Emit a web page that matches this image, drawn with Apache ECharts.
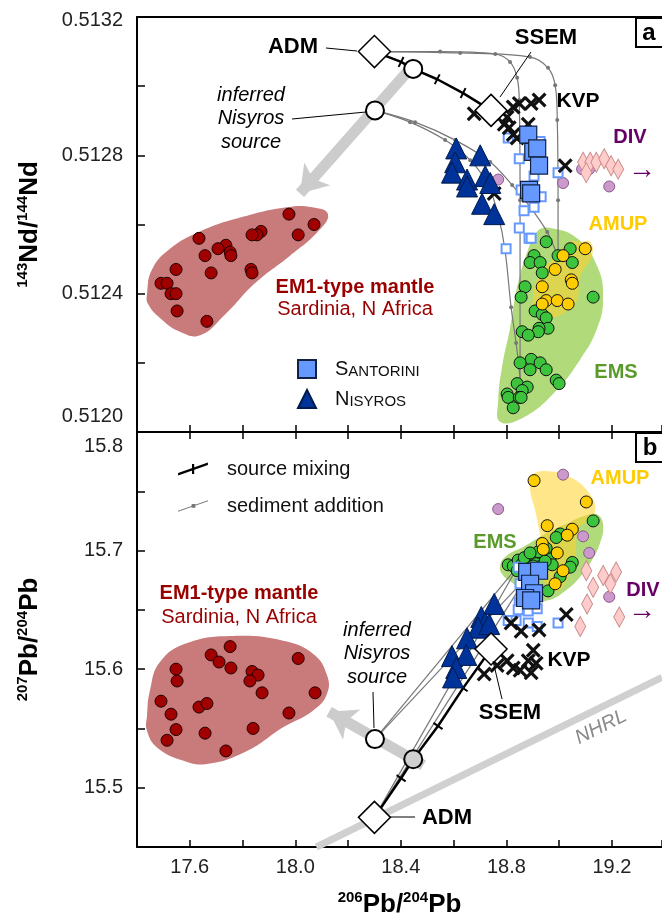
<!DOCTYPE html>
<html>
<head>
<meta charset="utf-8">
<script src="https://cdn.jsdelivr.net/npm/echarts@6/dist/echarts.min.js"></script>
<style>
html, body { margin: 0; padding: 0; background: #fff; }
#chart { width: 662px; height: 913px; }
</style>
</head>
<body>
<div id="chart"></div>
<script>
// axes
var X_MIN = 17.4, X_MAX = 19.39;
var xTickLabels = ['17.6', '18.0', '18.4', '18.8', '19.2'];
var yTickLabelsA = ['0.5120', '0.5124', '0.5128', '0.5132'];
var yTickLabelsB = ['15.5', '15.6', '15.7', '15.8'];

// ---- panel a : 143Nd/144Nd vs 206Pb/204Pb ----
var em1A = [[17.976,0.51263],[18.071,0.51260],[18.011,0.51257],[17.870,0.51258],[17.855,0.51257],[17.836,0.51257],
  [17.635,0.51256],[17.737,0.51254],[17.707,0.51253],[17.753,0.51252],[17.756,0.51251],[17.658,0.51251],
  [17.832,0.51247],[17.836,0.51246],[17.681,0.51246],[17.548,0.51247],[17.491,0.51243],[17.514,0.51243],
  [17.529,0.51240],[17.548,0.51240],[17.552,0.51235],[17.665,0.51232]];
var em1FieldA = [[17.438,0.51240],[17.457,0.51247],[17.525,0.51253],[17.639,0.51258],[17.791,0.51262],[17.969,0.51265],
  [18.064,0.51265],[18.124,0.51263],[18.086,0.51258],[17.980,0.51251],[17.847,0.51243],[17.734,0.51234],
  [17.639,0.51228],[17.563,0.51229],[17.487,0.51233],[17.442,0.51237]];
var emsFieldA = [[18.966,0.51259],[19.068,0.51256],[19.144,0.51248],[19.167,0.51239],[19.144,0.51230],[19.080,0.51221],
  [18.977,0.51211],[18.860,0.51204],[18.776,0.51203],[18.769,0.51209],[18.784,0.51219],[18.814,0.51230],
  [18.841,0.51242],[18.879,0.51252],[18.917,0.51258]];
var amupFieldA = [[19.080,0.51255],[19.118,0.51255],[19.125,0.51251],[19.080,0.51245],[19.068,0.51238],[19.031,0.51235],
  [18.966,0.51233],[18.909,0.51235],[18.902,0.51240],[18.928,0.51246],[18.977,0.51250],[19.042,0.51255]];
var emsA = [[18.951,0.51255],[18.905,0.51251],[18.890,0.51249],[18.928,0.51249],[18.936,0.51246],[19.042,0.51253],
  [19.050,0.51249],[18.996,0.51251],[18.871,0.51242],[18.856,0.51239],[19.129,0.51239],[18.909,0.51235],
  [18.936,0.51234],[18.951,0.51233],[18.958,0.51230],[18.924,0.51230],[18.921,0.51229],[18.860,0.51229],
  [18.883,0.51228],[18.894,0.51221],[18.928,0.51220],[18.852,0.51220],[18.890,0.51218],[18.951,0.51218],
  [18.989,0.51215],[19.000,0.51214],[18.841,0.51214],[18.879,0.51213],[18.860,0.51212],[18.803,0.51211],
  [18.807,0.51210],[18.849,0.51210],[18.856,0.51210],[18.826,0.51207]];
var amupA = [[19.099,0.51253],[19.015,0.51251],[18.985,0.51247],[19.046,0.51244],[19.050,0.51243],[18.936,0.51242],
  [18.951,0.51238],[18.936,0.51237],[18.993,0.51238],[19.034,0.51237]];
var kvpA = [[18.678,0.51292],[18.826,0.51294],[18.849,0.51295],[18.894,0.51295],[18.924,0.51296],[18.883,0.51289],
  [18.803,0.51291],[18.792,0.51289],[18.811,0.51288],[18.826,0.51286],[18.841,0.51285],[19.023,0.51277],[18.754,0.51269]];
var santBigA = [[18.883,0.51286],[18.902,0.51281],[18.917,0.51282],[18.924,0.51277],[18.886,0.51270],[18.894,0.51269]];
var santSmallA = [[18.807,0.51285],[18.849,0.51279],[18.928,0.51284],[18.905,0.51274],[18.856,0.51270],[18.932,0.51268],
  [18.867,0.51264],[18.905,0.51265],[18.996,0.51275],[18.849,0.51259],[18.886,0.51256],[18.894,0.51256],[18.799,0.51253]];
var nisA = [[18.610,0.51282],[18.606,0.51278],[18.594,0.51275],[18.701,0.51280],[18.651,0.51273],[18.651,0.51271],
  [18.720,0.51274],[18.739,0.51272],[18.708,0.51266],[18.754,0.51263]];
var divDiamA = [[19.091,0.51278],[19.118,0.51278],[19.141,0.51278],[19.171,0.51279],[19.197,0.51277],[19.224,0.51276],[19.103,0.51275]];
var divCircA = [[18.769,0.51273],[19.015,0.51272],[19.087,0.51276],[19.114,0.51276],[19.190,0.51271]];
var endMembersA = [[18.30,0.51310],[18.742,0.51293]];      // ADM, SSEM
var sourcesA = [[18.302,0.51293],[18.447,0.51305]];        // inferred Nisyros source, mixing point
var mixLineA = [[18.30,0.51310],[18.401,0.51307],[18.447,0.51305],[18.538,0.51302],[18.636,0.51298],[18.742,0.51293]];
var sedA1 = [[18.30,0.51310],[18.549,0.51310],[18.758,0.513093],[18.814,0.51307],[18.841,0.513024],[18.849,0.51296],
  [18.852,0.51267],[18.852,0.51238],[18.852,0.512156]];
var sedA2 = [[18.30,0.51310],[18.625,0.513096],[18.890,0.513084],[18.958,0.513053],[18.985,0.513003],[18.993,0.512902],
  [18.996,0.51267],[18.996,0.512503]];
var sedA3 = [[18.302,0.51293],[18.435,0.512896],[18.568,0.512844],[18.663,0.512786],[18.731,0.512714],[18.769,0.512627],
  [18.795,0.512526],[18.818,0.512361],[18.837,0.512257],[18.852,0.512156]];
var sedA4 = [[18.302,0.51293],[18.454,0.512896],[18.606,0.512844],[18.739,0.512781],[18.822,0.512714],[18.890,0.512651],
  [18.955,0.512578],[18.993,0.512512]];
var arrowA = [[18.458,0.51307],[18.018,0.51269]];

// ---- panel b : 207Pb/204Pb vs 206Pb/204Pb ----
var em1B = [[17.753,15.619],[17.681,15.612],[17.711,15.606],[17.756,15.601],[17.548,15.600],[17.552,15.590],
  [17.836,15.598],[17.859,15.595],[17.828,15.590],[17.874,15.580],[18.011,15.609],[18.075,15.580],
  [17.491,15.573],[17.635,15.568],[17.665,15.571],[17.529,15.562],[17.548,15.549],[17.514,15.540],
  [17.658,15.546],[17.840,15.550],[17.976,15.563],[17.737,15.531]];
var em1FieldB = [[17.438,15.561],[17.449,15.582],[17.487,15.606],[17.590,15.622],[17.764,15.628],[17.954,15.624],
  [18.067,15.613],[18.120,15.595],[18.120,15.579],[18.067,15.565],[17.954,15.551],[17.817,15.531],
  [17.665,15.520],[17.574,15.523],[17.476,15.534],[17.438,15.548]];
var emsFieldB = [[18.776,15.687],[18.803,15.696],[18.864,15.703],[18.955,15.715],[19.031,15.723],[19.106,15.730],
  [19.148,15.730],[19.167,15.721],[19.156,15.707],[19.125,15.692],[19.080,15.678],[19.023,15.666],
  [18.958,15.658],[18.890,15.658],[18.833,15.671],[18.788,15.679]];
var amupFieldB = [[18.894,15.763],[18.958,15.767],[19.050,15.761],[19.118,15.747],[19.137,15.734],[19.110,15.726],
  [19.072,15.717],[19.061,15.696],[19.034,15.677],[18.996,15.666],[18.947,15.671],[18.947,15.692],
  [18.928,15.713],[18.909,15.734],[18.890,15.751]];
var emsB = [[19.129,15.725],[19.004,15.714],[18.989,15.711],[18.807,15.688],[18.826,15.687],[18.845,15.692],
  [18.860,15.689],[18.879,15.691],[18.894,15.693],[18.909,15.695],[18.928,15.697],[18.943,15.695],
  [18.955,15.698],[18.966,15.693],[18.913,15.689],[18.932,15.687],[18.883,15.686],[18.902,15.687],
  [19.050,15.690],[19.042,15.686],[19.004,15.678],[18.958,15.666],[18.951,15.702],[18.921,15.699],
  [18.868,15.694],[18.974,15.688],[18.841,15.683],[18.947,15.691],[18.890,15.698]];
var amupB = [[18.905,15.759],[19.103,15.741],[18.955,15.721],[19.050,15.718],[19.031,15.713],[18.936,15.706],
  [18.940,15.701],[18.993,15.698],[19.015,15.683],[18.985,15.672]];
var kvpB = [[18.818,15.639],[18.856,15.632],[18.924,15.633],[19.027,15.646],[18.902,15.616],[18.803,15.607],
  [18.826,15.601],[18.852,15.599],[18.894,15.597],[18.883,15.607],[18.716,15.596],[18.765,15.603],[18.913,15.605]];
var santBigB = [[18.879,15.682],[18.924,15.683],[18.890,15.672],[18.905,15.664],[18.871,15.660],[18.894,15.658]];
var santSmallB = [[18.845,15.686],[18.852,15.672],[18.856,15.664],[18.849,15.656],[18.845,15.650],[18.883,15.649],
  [18.917,15.651],[18.807,15.641],[18.837,15.641],[18.883,15.639],[18.917,15.636],[18.996,15.639],[18.894,15.667]];
var nisB = [[18.754,15.655],[18.705,15.644],[18.720,15.639],[18.693,15.635],[18.651,15.626],[18.594,15.611],
  [18.648,15.612],[18.610,15.601],[18.598,15.593],[18.735,15.638]];
var divDiamB = [[19.103,15.683],[19.167,15.679],[19.216,15.682],[19.194,15.672],[19.129,15.669],[19.106,15.655],
  [19.228,15.644],[19.080,15.636]];
var divCircB = [[19.015,15.764],[18.769,15.735],[19.091,15.712],[19.114,15.698],[19.190,15.661]];
var endMembersB = [[18.30,15.475],[18.742,15.617]];
var sourcesB = [[18.302,15.541],[18.447,15.524]];
var mixLineB = [[18.30,15.475],[18.401,15.508],[18.447,15.524],[18.541,15.552],[18.636,15.584],[18.742,15.617]];
var sedB1 = [[18.30,15.475],[18.845,15.687]];
var sedB2 = [[18.30,15.475],[18.875,15.677]];
var sedB3 = [[18.302,15.541],[18.845,15.687]];
var sedB4 = [[18.302,15.541],[18.875,15.677]];
var arrowB = [[18.485,15.519],[18.128,15.564]];
var nhrl = [[18.08,15.45],[19.39,15.593]];

var F = 'Liberation Sans, Arial, sans-serif';
var chart = echarts.init(document.getElementById('chart'));

function pick(labels, v, tol) {
  for (var i = 0; i < labels.length; i++) {
    if (Math.abs(parseFloat(labels[i]) - v) < tol) return labels[i];
  }
  return '';
}
function ax(p) { return p === 0 ? { xAxisIndex: 0, yAxisIndex: 0 } : { xAxisIndex: 2, yAxisIndex: 1 }; }

function field(data, p, fill, z) {
  return Object.assign({
    type: 'custom', silent: true, z: z, data: data,
    renderItem: function (params, api) {
      if (params.dataIndex !== 0) return null;
      return {
        type: 'polygon',
        shape: { points: data.map(function (d) { return api.coord(d); }), smooth: 0.45 },
        style: { fill: fill, stroke: 'none' }
      };
    }
  }, ax(p));
}
function dots(name, data, p, symbol, size, color, border, bw, z) {
  return Object.assign({
    type: 'scatter', name: name, data: data, symbol: symbol, symbolSize: size, z: z, silent: true,
    itemStyle: { color: color, borderColor: border, borderWidth: bw, opacity: 1 }
  }, ax(p));
}
function sed(data, p) {
  var n = data.length;
  return Object.assign({
    type: 'line', name: 'sediment addition', data: data, smooth: 0.35, z: 3, silent: true,
    symbol: 'circle',
    symbolSize: function (v, prm) { return (prm.dataIndex === 0 || prm.dataIndex === n - 1) ? 0 : 4; },
    itemStyle: { color: '#777' }, lineStyle: { color: '#777', width: 1.2 }
  }, ax(p));
}
function mix(data, p, rot) {
  var n = data.length;
  return Object.assign({
    type: 'line', name: 'source mixing', data: data, z: 4, silent: true,
    symbol: 'rect', symbolRotate: rot,
    symbolSize: function (v, prm) { return (prm.dataIndex === 0 || prm.dataIndex === n - 1) ? 0 : [2, 11]; },
    itemStyle: { color: '#000' }, lineStyle: { color: '#000', width: 2.5 }
  }, ax(p));
}
function arrow(data, p) {
  return Object.assign({
    type: 'lines', coordinateSystem: 'cartesian2d', z: 2, silent: true,
    symbol: ['none', 'arrow'], symbolSize: 26,
    lineStyle: { color: '#cccccc', width: 11, opacity: 1 },
    data: [{ coords: data }]
  }, ax(p));
}

var KVP = 'path://M0,1.5L1.5,0L5,3.5L8.5,0L10,1.5L6.5,5L10,8.5L8.5,10L5,6.5L1.5,10L0,8.5L3.5,5Z';
var MIX_ICON = 'path://M0,10.5L30,0L30,2.6L0,13.1Z M14,1.5L16.2,1.5L16.2,11.5L14,11.5Z';
var SED_ICON = 'path://M0,12.3L30,1.8L30,2.8L0,13.3Z M13.6,5.6L17.4,5.6L17.4,9.4L13.6,9.4Z';
var GREEN = '#3cc43c', YELLOW = '#ffcc00', DRED = '#a00000', BLUE = '#6699ff', NAVY = '#003399';

function panelSeries(p, d) {
  return [
    field(d.emsField, p, 'rgba(140,200,60,0.68)', 1),
    field(d.amupField, p, 'rgba(255,210,40,0.55)', 1),
    field(d.em1Field, p, '#c97b7b', 1),
    arrow(d.arrow, p),
    sed(d.sed[0], p), sed(d.sed[1], p), sed(d.sed[2], p), sed(d.sed[3], p),
    mix(d.mix, p, d.rot),
    dots('EM1', d.em1, p, 'circle', 12, DRED, '#200', 1, 5),
    dots('EMS', d.ems, p, 'circle', 12, GREEN, '#111', 1, 5),
    dots('AMUP', d.amup, p, 'circle', 12, YELLOW, '#111', 1, 5),
    dots('DIVc', d.divCirc, p, 'circle', 11, '#cc99cc', '#8a5a8a', 1, 5),
    dots('DIVd', d.divDiam, p, 'diamond', [11, 20], '#ffcccc', '#c98a8a', 1, 5),
    dots('small', d.santSmall, p, 'rect', 9, '#fff', BLUE, 2, 6),
    dots('KVP', d.kvp, p, KVP, 15, '#111', '#111', 0, 6),
    dots('Nisyros', d.nis, p, 'triangle', 21, NAVY, '#001a4d', 1, 7),
    dots('Santorini', d.santBig, p, 'rect', 17, BLUE, '#112244', 1.2, 7),
    dots('end', d.ends, p, 'diamond', 32, '#fff', '#000', 1.5, 8),
    dots('src0', [d.sources[0]], p, 'circle', 18, '#fff', '#000', 2, 8),
    dots('src1', [d.sources[1]], p, 'circle', 18, p === 0 ? '#fff' : '#cfcfcf', '#000', 2, 8)
  ];
}

var series = []
  .concat([Object.assign({
    type: 'line', data: nhrl, showSymbol: false, silent: true, z: 1,
    lineStyle: { color: '#d0d0d0', width: 7 }
  }, ax(1))])
  .concat(panelSeries(0, {
    emsField: emsFieldA, amupField: amupFieldA, em1Field: em1FieldA, arrow: arrowA,
    sed: [sedA1, sedA2, sedA3, sedA4], mix: mixLineA, rot: -26.6,
    em1: em1A, ems: emsA, amup: amupA, divCirc: divCircA, divDiam: divDiamA, santSmall: santSmallA,
    kvp: kvpA, nis: nisA, santBig: santBigA, ends: endMembersA, sources: sourcesA
  }))
  .concat(panelSeries(1, {
    emsField: emsFieldB, amupField: amupFieldB, em1Field: em1FieldB, arrow: arrowB,
    sed: [sedB1, sedB2, sedB3, sedB4], mix: mixLineB, rot: 55.3,
    em1: em1B, ems: emsB, amup: amupB, divCirc: divCircB, divDiam: divDiamB, santSmall: santSmallB,
    kvp: kvpB, nis: nisB, santBig: santBigB, ends: endMembersB, sources: sourcesB
  }));

var axisLine = { onZero: false, lineStyle: { color: '#000', width: 2 } };
var tick = { inside: true, length: 7, lineStyle: { color: '#000', width: 1.5 } };
function xAx(grid, pos, extra) {
  return Object.assign({
    type: 'value', gridIndex: grid, position: pos, min: X_MIN, max: X_MAX, interval: 0.2,
    splitLine: { show: false }, axisLine: axisLine, axisTick: tick, axisLabel: { show: false }
  }, extra || {});
}
var nameRich = {
  s: { fontSize: 15, fontWeight: 'bold', fontFamily: F, color: '#000', verticalAlign: 'top', lineHeight: 15 },
  b: { fontSize: 26, fontWeight: 'bold', fontFamily: F, color: '#000', lineHeight: 30 }
};
var lab = { fontSize: 20, fontFamily: F, color: '#222' };

var option = {
  animation: false,
  backgroundColor: '#fff',
  grid: [
    { left: 137, top: 17, width: 525, height: 415, outerBoundsMode: 'none' },
    { left: 137, top: 432, width: 525, height: 415, outerBoundsMode: 'none' }
  ],
  xAxis: [
    xAx(0, 'bottom'),
    xAx(0, 'top', { axisTick: { show: false } }),
    xAx(1, 'bottom', {
      axisLabel: {
        show: true, margin: 10, fontSize: 20, fontFamily: F, color: '#222',
        formatter: function (v) { return pick(xTickLabels, v, 1e-6); }
      },
      name: '{s|206}{b|Pb/}{s|204}{b|Pb}', nameLocation: 'middle', nameGap: 43,
      nameTextStyle: { rich: nameRich }
    }),
    xAx(1, 'top')
  ],
  yAxis: [
    {
      type: 'value', gridIndex: 0, min: 0.5120, max: 0.5132, interval: 0.0002,
      splitLine: { show: false }, axisLine: axisLine, axisTick: { inside: true, length: 8, lineStyle: { color: '#000', width: 1.5 } },
      axisLabel: {
        margin: 14, fontSize: 20, fontFamily: F, color: '#222',
        formatter: function (v) {
          var s = pick(yTickLabelsA, v, 1e-8);
          if (s === '0.5120') return '{lo|' + s + '}';
          if (s === '0.5132') return '{hi|' + s + '}';
          return s;
        },
        rich: {
          lo: Object.assign({ padding: [0, 0, 32, 0] }, lab),
          hi: Object.assign({ padding: [6, 0, 0, 0] }, lab)
        }
      },
      name: '{s|143}{b|Nd/}{s|144}{b|Nd}', nameLocation: 'middle', nameGap: 92,
      nameTextStyle: { rich: nameRich }
    },
    {
      type: 'value', gridIndex: 1, min: 15.45, max: 15.8, interval: 0.05,
      splitLine: { show: false }, axisLine: axisLine, axisTick: { inside: true, length: 8, lineStyle: { color: '#000', width: 1.5 } },
      axisLabel: {
        margin: 14, fontSize: 20, fontFamily: F, color: '#222',
        formatter: function (v) {
          var s = pick(yTickLabelsB, v, 1e-6);
          if (s === '15.8') return '{hi|' + s + '}';
          return s;
        },
        rich: { hi: Object.assign({ padding: [29, 0, 0, 0] }, lab) }
      },
      name: '{s|207}{b|Pb/}{s|204}{b|Pb}', nameLocation: 'middle', nameGap: 92,
      nameTextStyle: { rich: nameRich }
    }
  ],
  legend: [
    {
      data: [{ name: 'Santorini', icon: 'rect' }, { name: 'Nisyros', icon: 'triangle' }],
      orient: 'vertical', left: 292, top: 354, itemWidth: 18, itemHeight: 18, itemGap: 10,
      selectedMode: false,
      formatter: function (n) { return n === 'Santorini' ? '{c|S}{s|ANTORINI}' : '{c|N}{s|ISYROS}'; },
      textStyle: {
        padding: [0, 0, 0, 14],
        rich: {
          c: { fontSize: 20, fontFamily: F, color: '#111' },
          s: { fontSize: 15, fontFamily: F, color: '#111', verticalAlign: 'bottom', lineHeight: 19 }
        }
      }
    },
    {
      data: [{ name: 'source mixing', icon: MIX_ICON }, { name: 'sediment addition', icon: SED_ICON }],
      orient: 'vertical', left: 173, top: 454, itemWidth: 30, itemHeight: 13, itemGap: 17,
      selectedMode: false,
      textStyle: { fontSize: 20, fontFamily: F, color: '#111', padding: [0, 0, 0, 14] }
    }
  ],
  series: series
};
chart.setOption(option);

// annotations
function t(x, y, text, o) {
  return {
    type: 'text', x: x, y: y, z: 100, silent: true,
    style: Object.assign({ text: text, fontSize: 20, fontFamily: F, fill: '#000', align: 'center', verticalAlign: 'middle' }, o || {})
  };
}
function ln(x1, y1, x2, y2, w) {
  return { type: 'line', z: 100, silent: true, shape: { x1: x1, y1: y1, x2: x2, y2: y2 }, style: { stroke: '#000', lineWidth: w || 1 } };
}
var graphics = [
  // panel a
  t(293, 47, 'ADM', { fontWeight: 'bold', fontSize: 22 }), ln(326, 48, 357, 51),
  t(546, 38, 'SSEM', { fontWeight: 'bold', fontSize: 22 }), ln(531, 52, 500, 97),
  t(578, 101, 'KVP', { fontWeight: 'bold', fontSize: 21 }),
  t(630, 137, 'DIV', { fontWeight: 'bold', fill: '#660066' }),
  t(642, 170, '\u2192', { fontSize: 28, fill: '#660066' }),
  t(618, 224, 'AMUP', { fontWeight: 'bold', fill: '#ffcc00' }),
  t(616, 372, 'EMS', { fontWeight: 'bold', fill: '#5a9a2a' }),
  t(355, 287, 'EM1-type mantle', { fontWeight: 'bold', fill: '#990000' }),
  t(355, 309, 'Sardinia, N Africa', { fill: '#990000' }),
  t(251, 95, 'inferred', { fontStyle: 'italic' }),
  t(251, 118, 'Nisyros', { fontStyle: 'italic' }),
  t(251, 142, 'source', { fontStyle: 'italic' }),
  ln(292, 119, 366, 112),
  { type: 'rect', z: 100, shape: { x: 636, y: 18, width: 40, height: 29 }, style: { fill: '#fff', stroke: '#000', lineWidth: 2 } },
  t(649, 33, 'a', { fontWeight: 'bold', fontSize: 24 }),
  // panel b
  t(447, 818, 'ADM', { fontWeight: 'bold', fontSize: 22 }), ln(390, 817, 415, 817),
  t(510, 713, 'SSEM', { fontWeight: 'bold', fontSize: 22 }), ln(493, 661, 502, 699),
  t(569, 660, 'KVP', { fontWeight: 'bold', fontSize: 21 }),
  t(643, 590, 'DIV', { fontWeight: 'bold', fill: '#660066' }),
  t(642, 611, '\u2192', { fontSize: 28, fill: '#660066' }),
  t(620, 478, 'AMUP', { fontWeight: 'bold', fill: '#ffcc00' }),
  t(495, 542, 'EMS', { fontWeight: 'bold', fill: '#5a9a2a' }),
  t(239, 593, 'EM1-type mantle', { fontWeight: 'bold', fill: '#990000' }),
  t(239, 617, 'Sardinia, N Africa', { fill: '#990000' }),
  t(377, 630, 'inferred', { fontStyle: 'italic' }),
  t(377, 653, 'Nisyros', { fontStyle: 'italic' }),
  t(377, 677, 'source', { fontStyle: 'italic' }),
  ln(373, 692, 374, 728),
  Object.assign(t(601, 727, 'NHRL', { fontStyle: 'italic', fill: '#8a8a8a' }), { rotation: 26.5 * Math.PI / 180 }),
  { type: 'rect', z: 100, shape: { x: 636, y: 433, width: 40, height: 29 }, style: { fill: '#fff', stroke: '#000', lineWidth: 2 } },
  t(650, 448, 'b', { fontWeight: 'bold', fontSize: 24 })
];
chart.setOption({ graphic: graphics });
</script>
</body>
</html>
